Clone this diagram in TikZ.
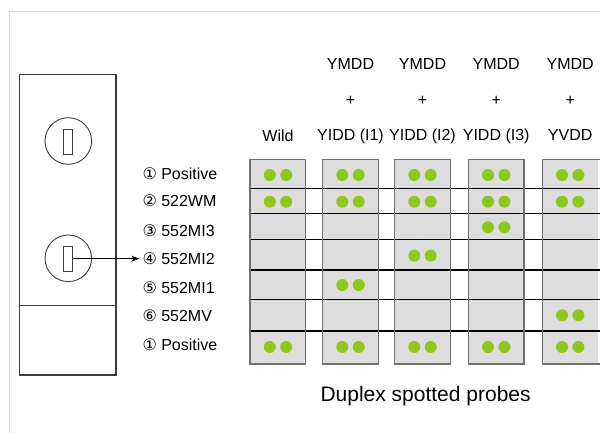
\documentclass[tikz,border=0pt]{standalone}
\usepackage{fontspec}
\setmainfont{Liberation Sans}
\newfontfamily\symfont{DejaVu Sans}
\usetikzlibrary{arrows.meta}
\definecolor{dotgreen}{RGB}{141,200,26}
\definecolor{cellgray}{RGB}{221,221,221}
\definecolor{framegray}{RGB}{218,218,218}
\definecolor{bordergray}{RGB}{112,112,112}
\definecolor{panelline}{RGB}{60,60,60}
\tikzset{
  lbl/.style={inner sep=0pt, anchor=base west, font=\fontsize{16}{19}\selectfont},
  hdr/.style={inner sep=0pt, anchor=base, font=\fontsize{16}{19}\selectfont},
  cellcol/.style={fill=cellgray, draw=bordergray, line width=1.4pt},
  rowline/.style={draw=black, line width=1.1pt},
  spot/.style={circle, fill=dotgreen, minimum size=12pt, inner sep=0pt},
  ring/.style={circle, draw=panelline, line width=0.9pt, minimum size=46.6pt, inner sep=0pt},
  slot/.style={draw=panelline, line width=0.9pt, minimum width=8.6pt, minimum height=25pt, inner sep=0pt},
}
\begin{document}
\begin{tikzpicture}[x=1pt,y=-1pt]
\useasboundingbox (0,0) rectangle (600,432);
\clip (0,0) rectangle (600,432);
% outer frame
\draw[framegray, line width=1pt] (9.5,440) -- (9.5,11.5) -- (610,11.5);
% left panel
\draw[panelline, line width=1.1pt] (19.3,74.3) rectangle (116,375);
\draw[panelline, line width=1.1pt] (19.3,305.7) -- (116,305.7);
\node[ring] (ring1) at (68.3,141) {};
\node[slot] (slot1) at (68.1,141.8) {};
\node[ring] (ring2) at (68.3,258.3) {};
\node[slot] (slot2) at (68.1,258.7) {};
% row labels
\node[lbl] (lab1) at (142.3,179.4) {{\symfont ①} Positive};
\node[lbl] (lab2) at (142.3,206.7) {{\symfont ②} 522WM};
\node[lbl] (lab3) at (142.3,236.5) {{\symfont ③} 552MI3};
\node[lbl] (lab4) at (142.3,264.5) {{\symfont ④} 552MI2};
\node[lbl] (lab5) at (142.3,293.2) {{\symfont ⑤} 552MI1};
\node[lbl] (lab6) at (142.3,321.5) {{\symfont ⑥} 552MV};
\node[lbl] (lab7) at (142.3,350.5) {{\symfont ①} Positive};
\draw[black, line width=0.8pt, -{Stealth[length=8pt,width=6pt]}] (slot2.east) -- ([xshift=-3pt]lab4.west |- slot2.east);
% columns
\foreach \xl [count=\i] in {250,322.7,394.7,468.3,542.3}{
  \fill[cellgray] (\xl,159.3) rectangle ({\xl+55.7},364);
}
\foreach \yy in {188.3,213.3,239.3,270,299.3,331}{
  \draw[rowline] (250,\yy) -- (610,\yy);
}
\foreach \xl in {250,322.7,394.7,468.3}{
  \draw[draw=bordergray, line width=1.4pt] (\xl,159.3) rectangle ({\xl+55.7},364);
}
\draw[draw=bordergray, line width=1.4pt] (542.3,159.3) rectangle (610,364);
% headers
\node[hdr] (hw) at (278,141) {Wild};
\foreach \cx/\nm/\lab in {350.5/a/YIDD (I1),422.5/b/YIDD (I2),496.2/c/YIDD (I3),570.2/d/YVDD}{
  \node[hdr] (ym\nm) at (\cx,69) {YMDD};
  \node[hdr] (pl\nm) at (\cx,105.5) {+};
  \node[hdr] (yi\nm) at (\cx,140.7) {\lab};
}
% dots
\foreach \cx/\rows in {278/{1,2,7},350.5/{1,2,5,7},422.5/{1,2,4,7},496.2/{1,2,3,7},570.2/{1,2,6,7}}{
  \foreach \r in \rows {
    \pgfmathsetmacro{\yy}{{175,201.7,227.3,255.7,285,315.3,347}[\r-1]}
    \node[spot] at ({\cx-8.2},\yy) {};
    \node[spot] at ({\cx+8.2},\yy) {};
  }
}
\node[inner sep=0pt, anchor=base, font=\fontsize{21}{25}\selectfont] (title) at (425.6,401) {Duplex spotted probes};
\end{tikzpicture}
\end{document}
